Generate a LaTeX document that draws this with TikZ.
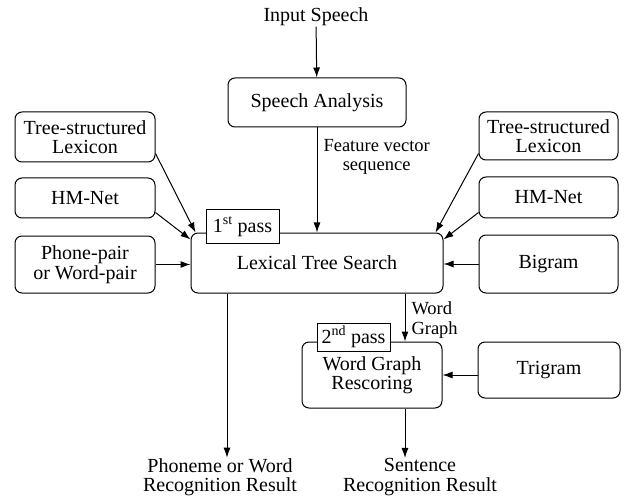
\documentclass[tikz,border=0pt]{standalone}
\usepackage{fontspec}
\setmainfont{Liberation Serif}
\usepackage{tikz}
\usetikzlibrary{arrows.meta}
\usetikzlibrary{quotes}

\tikzset{
  box/.style={draw, rounded corners=7pt, align=center, inner sep=0pt},
  passbox/.style={draw, fill=white, inner sep=0pt, minimum width=73pt},
  txt/.style={align=center, inner sep=0pt},
}

\begin{document}
\begin{tikzpicture}[x=1pt, y=-1pt, line width=1pt, >={Latex[length=10pt,width=7pt]},
    font=\fontsize{20}{19.5}\selectfont,
    every edge quotes/.style={font=\fontsize{18.5}{19.5}\selectfont, inner sep=6pt}]

    \useasboundingbox (0,0) rectangle (627,500);

    \node[txt]                                             (isp) at (316, 17)    {Input Speech};
    \node[box, minimum width=178pt, minimum height=49pt]   (sa)  at (317, 102.5) {Speech Analysis};
    \node[box, minimum width=140pt, minimum height=50pt]   (ltl) at (85, 137)    {Tree-structured\\Lexicon};
    \node[box, minimum width=140pt, minimum height=40pt]   (lhm) at (85, 198)    {HM-Net};
    \node[box, minimum width=140pt, minimum height=57pt]   (lpp) at (85, 264.5)  {Phone-pair\\or Word-pair};
    \node[box, minimum width=252pt, minimum height=60pt]   (lts) at (317, 263)   {Lexical Tree Search};
    \node[passbox, minimum height=33pt]                    (p1)  at (242.5, 226.5) {1\textsuperscript{st} pass};
    \node[box, minimum width=139pt, minimum height=48pt]   (rtl) at (548.5, 136) {Tree-structured\\Lexicon};
    \node[box, minimum width=139pt, minimum height=41pt]   (rhm) at (548.5, 197.5) {HM-Net};
    \node[box, minimum width=139pt, minimum height=58pt]   (rbg) at (548.5, 264) {Bigram};
    \node[box, minimum width=140pt, minimum height=66pt]   (wgr) at (372, 375)   {Word Graph\\Rescoring};
    \node[passbox, minimum height=28pt]                    (p2)  at (353.5, 337) {2\textsuperscript{nd} pass};
    \node[box, minimum width=142pt, minimum height=56pt]   (tri) at (549, 370)   {Trigram};
    \node[txt]                                             (pwr) at (220, 477)   {Phoneme or Word\\Recognition Result};
    \node[txt]                                             (snt) at (420, 477)   {Sentence\\Recognition Result};


    \draw (isp) edge[->] (sa);
    \draw (sa) edge[->, "Feature vector\\sequence" {right, align=center}, pos=0.28] (lts.north -| sa.south);
    \draw ([yshift=9pt]ltl.south east) edge[->] ([xshift=5pt]lts.north west);
    \draw ([yshift=6pt]lhm.south east) edge[->] ([yshift=-7pt]lts.north west);
    \draw (lpp.east) edge[->] (lpp.east -| lts.west);
    \draw ([yshift=7pt]rtl.south west) edge[->] ([xshift=-8pt]lts.north east);
    \draw ([yshift=6pt]rhm.south west) edge[->] ([yshift=-7pt]lts.north east);
    \draw (rbg.west) edge[->] (rbg.west -| lts.east);
    \draw ([xshift=-90pt]lts.south) edge[->] ([xshift=-90pt]lts.south |- pwr.north);
    \draw ([xshift=88pt]lts.south) edge[->, "Word\\Graph" {right, align=left}, pos=0.55] ([xshift=88pt]lts.south |- wgr.north);
    \draw (tri.west |- wgr.east) edge[->] (wgr.east);
    \draw ([xshift=33pt]wgr.south) edge[->] ([xshift=33pt]wgr.south |- snt.north);
  \end{tikzpicture}
\end{document}
